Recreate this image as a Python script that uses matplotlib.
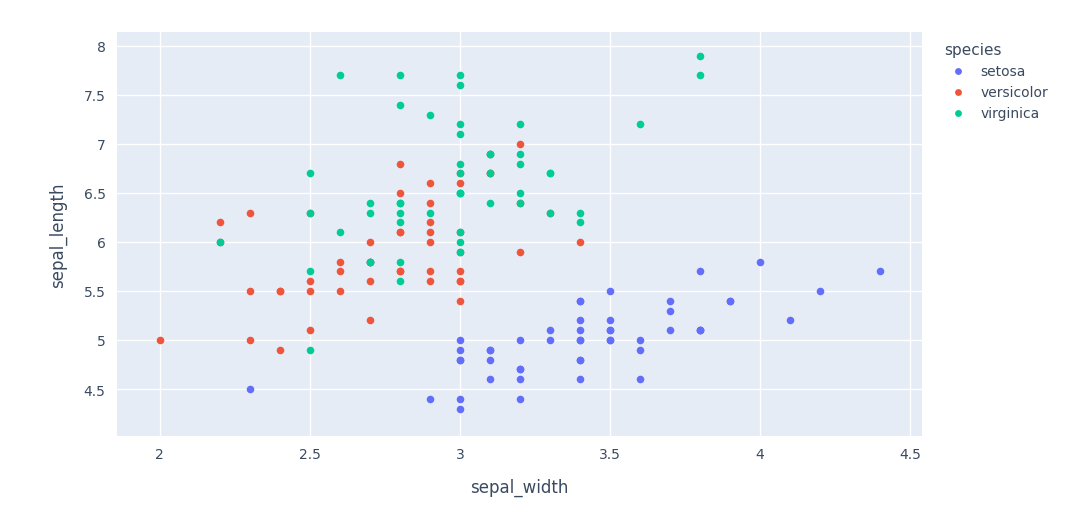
import matplotlib
matplotlib.use("Agg")
import matplotlib.pyplot as plt

setosa_len = [5.1,4.9,4.7,4.6,5.0,5.4,4.6,5.0,4.4,4.9,5.4,4.8,4.8,4.3,5.8,5.7,5.4,5.1,5.7,5.1,5.4,5.1,4.6,5.1,4.8,5.0,5.0,5.2,5.2,4.7,4.8,5.4,5.2,5.5,4.9,5.0,5.5,4.9,4.4,5.1,5.0,4.5,4.4,5.0,5.1,4.8,5.1,4.6,5.3,5.0]
setosa_wid = [3.5,3.0,3.2,3.1,3.6,3.9,3.4,3.4,2.9,3.1,3.7,3.4,3.0,3.0,4.0,4.4,3.9,3.5,3.8,3.8,3.4,3.7,3.6,3.3,3.4,3.0,3.4,3.5,3.4,3.2,3.1,3.4,4.1,4.2,3.1,3.2,3.5,3.6,3.0,3.4,3.5,2.3,3.2,3.5,3.8,3.0,3.8,3.2,3.7,3.3]
versi_len = [7.0,6.4,6.9,5.5,6.5,5.7,6.3,4.9,6.6,5.2,5.0,5.9,6.0,6.1,5.6,6.7,5.6,5.8,6.2,5.6,5.9,6.1,6.3,6.1,6.4,6.6,6.8,6.7,6.0,5.7,5.5,5.5,5.8,6.0,5.4,6.0,6.7,6.3,5.6,5.5,5.5,6.1,5.8,5.0,5.6,5.7,5.7,6.2,5.1,5.7]
versi_wid = [3.2,3.2,3.1,2.3,2.8,2.8,3.3,2.4,2.9,2.7,2.0,3.0,2.2,2.9,2.9,3.1,3.0,2.7,2.2,2.5,3.2,2.8,2.5,2.8,2.9,3.0,2.8,3.0,2.9,2.6,2.4,2.4,2.7,2.7,3.0,3.4,3.1,2.3,3.0,2.5,2.6,3.0,2.6,2.3,2.7,3.0,2.9,2.9,2.5,2.8]
virg_len = [6.3,5.8,7.1,6.3,6.5,7.6,4.9,7.3,6.7,7.2,6.5,6.4,6.8,5.7,5.8,6.4,6.5,7.7,7.7,6.0,6.9,5.6,7.7,6.3,6.7,7.2,6.2,6.1,6.4,7.2,7.4,7.9,6.4,6.3,6.1,7.7,6.3,6.4,6.0,6.9,6.7,6.9,5.8,6.8,6.7,6.7,6.3,6.5,6.2,5.9]
virg_wid = [3.3,2.7,3.0,2.9,3.0,3.0,2.5,2.9,2.5,3.6,3.2,2.7,3.0,2.5,2.8,3.2,3.0,3.8,2.6,2.2,3.2,2.8,2.8,2.7,3.3,3.2,2.8,3.0,2.8,3.0,2.8,3.8,2.8,2.8,2.6,3.0,3.4,3.1,3.0,3.1,3.1,3.1,2.7,3.2,3.3,3.0,2.5,3.0,3.4,3.0]

xticks = [2, 2.5, 3, 3.5, 4, 4.5]
yticks = [4.5, 5, 5.5, 6, 6.5, 7, 7.5, 8]

txt = "#3a4a5f"
fig = plt.figure(figsize=(10.8, 5.1), dpi=100)
ax = fig.add_axes([0.108, 0.143, 0.746, 0.792])
ax.set_facecolor("#E5ECF6")
for s in ax.spines.values():
    s.set_visible(False)
ax.grid(True, color="white", linewidth=1)
ax.set_axisbelow(True)
ax.tick_params(length=0, colors=txt, labelsize=10, pad=8)

series = [("setosa", setosa_wid, setosa_len, "#636EFA"),
          ("versicolor", versi_wid, versi_len, "#EF553B"),
          ("virginica", virg_wid, virg_len, "#00CC96")]
for name, x, y, c in series:
    ax.scatter(x, y, s=30, color=c, label=name, linewidths=0, zorder=3)

ax.set_xlim(1.857, 4.54)
ax.set_ylim(4.02, 8.14)
ax.set_xticks(xticks)
ax.set_xticklabels([f"{t:g}" for t in xticks])
ax.set_yticks(yticks)
ax.set_yticklabels([f"{t:g}" for t in yticks])
ax.set_xlabel("sepal_width", fontsize=12, color=txt, labelpad=12)
ax.set_ylabel("sepal_length", fontsize=12, color=txt, labelpad=12)

leg = ax.legend(title="species", loc="upper left", bbox_to_anchor=(1.02, 0.99),
                frameon=False, fontsize=10, title_fontsize=11,
                handletextpad=0.6, markerscale=0.9, borderaxespad=0)
leg._legend_box.align = "left"
for t in leg.get_texts():
    t.set_color(txt)
leg.get_title().set_color(txt)

fig.savefig("out.png", dpi=100)
